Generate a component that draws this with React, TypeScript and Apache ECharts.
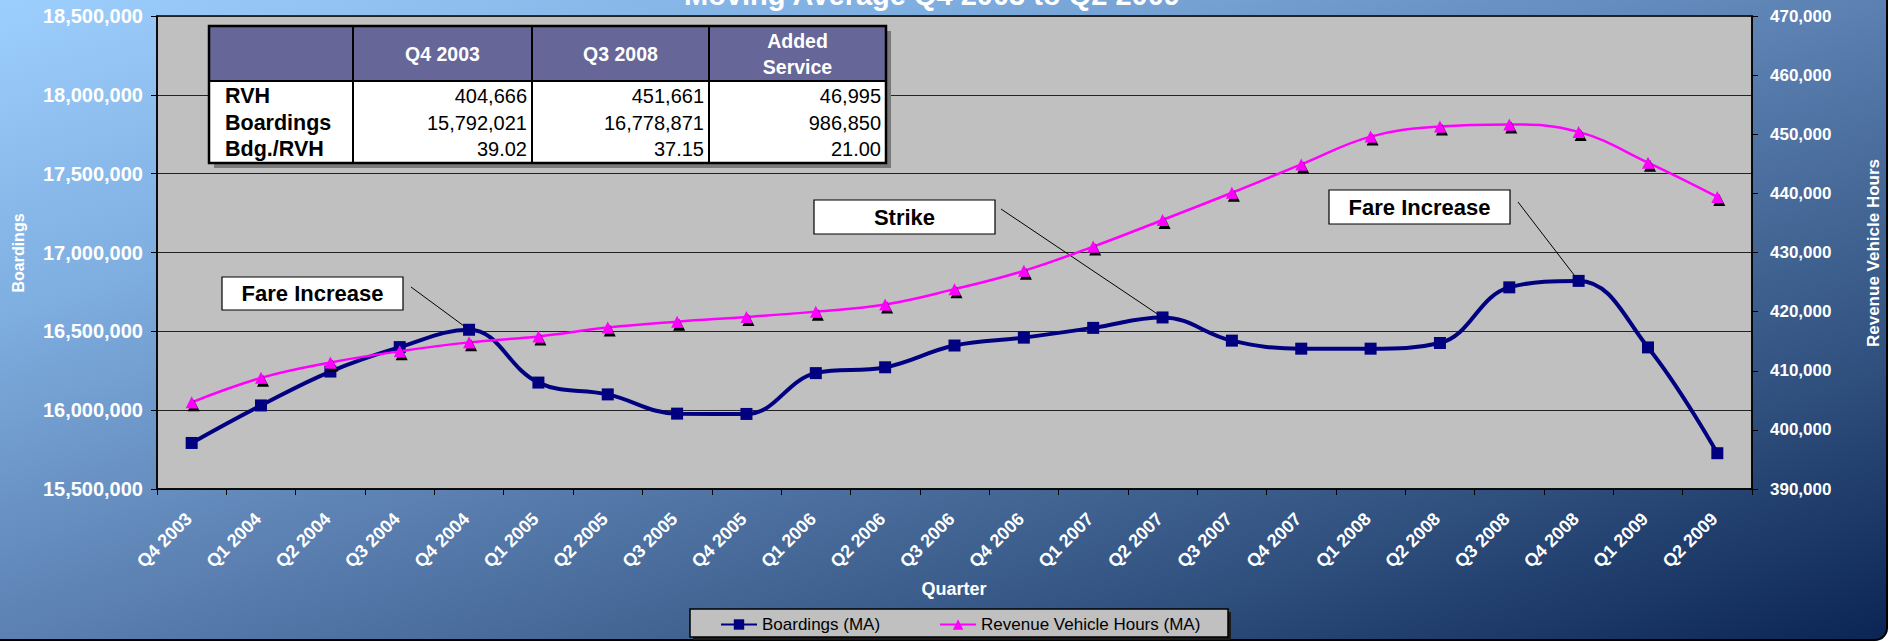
import React, { useEffect, useRef } from 'react';
import * as echarts from 'echarts';

// ---------------- data ----------------
const categories = [
  'Q4 2003', 'Q1 2004', 'Q2 2004', 'Q3 2004', 'Q4 2004', 'Q1 2005', 'Q2 2005', 'Q3 2005',
  'Q4 2005', 'Q1 2006', 'Q2 2006', 'Q3 2006', 'Q4 2006', 'Q1 2007', 'Q2 2007', 'Q3 2007',
  'Q4 2007', 'Q1 2008', 'Q2 2008', 'Q3 2008', 'Q4 2008', 'Q1 2009', 'Q2 2009',
];

const boardings = [
  15792021, 16030000, 16245000, 16400000, 16510000, 16175000, 16100000, 15978000,
  15976000, 16235000, 16272000, 16410000, 16460000, 16522000, 16588000, 16441000,
  16390000, 16390000, 16426000, 16778871, 16820000, 16398000, 15727000,
];

const revenueVehicleHours = [
  404666, 408800, 411400, 413300, 414800, 415800, 417300, 418300,
  419100, 420000, 421200, 423800, 426900, 431000, 435500, 440100,
  444900, 449600, 451300, 451661, 450400, 445200, 439400,
];

const seriesNames = ['Boardings (MA)', 'Revenue Vehicle Hours (MA)'];
const leftAxisRange = [15500000, 18500000, 500000];
const rightAxisRange = [390000, 470000, 10000];

const titleText = 'Moving Average Q4 2003 to Q2 2009';
const xAxisName = 'Quarter';
const leftAxisName = 'Boardings';
const rightAxisName = 'Revenue Vehicle Hours';

const tableHeaders = ['', 'Q4 2003', 'Q3 2008', 'Added\nService'];
const tableRowLabels = ['RVH', 'Boardings', 'Bdg./RVH'];
const tableQ42003 = ['404,666', '15,792,021', '39.02'];
const tableQ32008 = ['451,661', '16,778,871', '37.15'];
const tableAdded = ['46,995', '986,850', '21.00'];

const annotationTexts = ['Fare Increase', 'Strike', 'Fare Increase'];
const annotationIndex = [4, 14, 20];

// ---------------- layout ----------------
const W = 1891;
const H = 642;
const FONT = '"Liberation Sans", Arial, Helvetica, sans-serif';
const annotationBoxes = [
  { x: 222, y: 277, w: 181, h: 33, lx: 411, ly: 287 },
  { x: 814, y: 200, w: 181, h: 34, lx: 1001, ly: 209 },
  { x: 1329, y: 190, w: 181, h: 34, lx: 1518, ly: 202 },
];
const tableCols = [209, 353, 532, 709, 886];
const tableTop = 26;
const tableHeadBottom = 81;
const tableBottom = 163;
const tableRowY = [96, 122.5, 149];

const fmt = (v: number) => v.toLocaleString('en-US');

export default function App() {
  const ref = useRef<HTMLDivElement>(null);

  useEffect(() => {
    if (!ref.current) return;
    const chart = echarts.init(ref.current, undefined, { renderer: 'svg' });

    const option: any = {
      animation: false,
      backgroundColor: 'transparent',
      textStyle: { fontFamily: FONT },
      grid: {
        left: 157, right: W - 1752, top: 16, bottom: H - 489,
        show: true, backgroundColor: '#c0c0c0', borderColor: '#000', borderWidth: 1.5,
        containLabel: false,
      },
      legend: {
        left: 720, top: 616, itemWidth: 36, itemHeight: 13, itemGap: 59, padding: 0,
        textStyle: { color: '#000', fontSize: 17, fontFamily: FONT },
        data: seriesNames,
      },
      xAxis: {
        type: 'category', data: categories, boundaryGap: true,
        axisLine: { lineStyle: { color: '#000', width: 1.5 } },
        axisTick: { show: true, length: 6, lineStyle: { color: '#000' } },
        axisLabel: {
          color: '#fff', fontWeight: 'bold', fontSize: 18, rotate: 45, margin: 24,
          padding: [0, 4, 0, 0], interval: 0, fontFamily: FONT,
        },
        splitLine: { show: false },
      },
      yAxis: [
        {
          type: 'value', position: 'left',
          min: leftAxisRange[0], max: leftAxisRange[1], interval: leftAxisRange[2],
          axisLine: { show: true, lineStyle: { color: '#000', width: 1.5 } },
          axisTick: { show: true, length: 6, lineStyle: { color: '#000' } },
          axisLabel: { color: '#fff', fontWeight: 'bold', fontSize: 20, margin: 14, formatter: fmt, fontFamily: FONT },
          splitLine: { show: true, lineStyle: { color: '#222', width: 1 } },
        },
        {
          type: 'value', position: 'right',
          min: rightAxisRange[0], max: rightAxisRange[1], interval: rightAxisRange[2],
          axisLine: { show: true, lineStyle: { color: '#000', width: 1.5 } },
          axisTick: { show: true, length: 6, lineStyle: { color: '#000' } },
          axisLabel: { color: '#fff', fontWeight: 'bold', fontSize: 17, margin: 18, formatter: fmt, fontFamily: FONT },
          splitLine: { show: false },
        },
      ],
      series: [
        {
          name: seriesNames[0], type: 'line', yAxisIndex: 0, data: boardings,
          smooth: 0.4, symbol: 'rect', symbolSize: 12, z: 3,
          lineStyle: { color: '#000080', width: 4 },
          itemStyle: { color: '#000080' },
        },
        {
          name: seriesNames[1], type: 'line', yAxisIndex: 1, data: revenueVehicleHours,
          smooth: 0.4, symbol: 'triangle', symbolSize: 12, z: 4,
          lineStyle: { color: '#ff00ff', width: 2.5 },
          itemStyle: {
            color: '#ff00ff', shadowColor: '#000', shadowBlur: 0,
            shadowOffsetX: 2, shadowOffsetY: 3,
          },
        },
      ],
    };
    chart.setOption(option);

    // ---- graphics (background, title, names, table, annotations, legend box) ----
    const g: any[] = [];
    const a = (2 * W * H * H) / (W * W + H * H);
    const b = (2 * W * W * H) / (W * W + H * H);
    g.push({
      type: 'rect', z: -10, silent: true,
      shape: { x: -12, y: -30, width: 1899, height: 670, r: 12 },
      style: {
        fill: new echarts.graphic.LinearGradient(0, 0, a, b, [
          { offset: 0, color: '#9dcffe' },
          { offset: 0.25, color: '#7eaddf' },
          { offset: 0.5, color: '#5b80b1' },
          { offset: 0.75, color: '#355684' },
          { offset: 1, color: '#0a2453' },
        ], true),
        stroke: '#000', lineWidth: 2,
      },
    });
    g.push({
      type: 'text', z: 5, x: 932, y: -5,
      style: { text: titleText, fill: '#fff', font: `bold 29px ${FONT}`, align: 'center', verticalAlign: 'middle' },
    });
    g.push({
      type: 'text', z: 5, x: 954, y: 589,
      style: { text: xAxisName, fill: '#fff', font: `bold 18px ${FONT}`, align: 'center', verticalAlign: 'middle' },
    });
    g.push({
      type: 'text', z: 5, x: 18, y: 253, rotation: Math.PI / 2,
      style: { text: leftAxisName, fill: '#fff', font: `bold 16px ${FONT}`, align: 'center', verticalAlign: 'middle' },
    });
    g.push({
      type: 'text', z: 5, x: 1873, y: 253, rotation: Math.PI / 2,
      style: { text: rightAxisName, fill: '#fff', font: `bold 17px ${FONT}`, align: 'center', verticalAlign: 'middle' },
    });

    // legend box
    g.push({
      type: 'rect', z: 0, silent: true,
      shape: { x: 693, y: 612, width: 538, height: 28 },
      style: { fill: '#1a1a1a' },
    });
    g.push({
      type: 'rect', z: 0, silent: true,
      shape: { x: 690, y: 609, width: 538, height: 28 },
      style: { fill: '#c0c0c0', stroke: '#000', lineWidth: 1.5 },
    });

    // table
    const tx = tableCols[0];
    const tw = tableCols[4] - tableCols[0];
    g.push({ type: 'rect', z: 20, shape: { x: tx + 5, y: tableTop + 5, width: tw, height: tableBottom - tableTop }, style: { fill: '#7a7a7a' } });
    g.push({ type: 'rect', z: 20, shape: { x: tx, y: tableTop, width: tw, height: tableHeadBottom - tableTop }, style: { fill: '#666699' } });
    g.push({ type: 'rect', z: 20, shape: { x: tx, y: tableHeadBottom, width: tw, height: tableBottom - tableHeadBottom }, style: { fill: '#ffffff' } });
    g.push({ type: 'rect', z: 21, shape: { x: tx, y: tableTop, width: tw, height: tableBottom - tableTop }, style: { fill: 'none', stroke: '#000', lineWidth: 2.5 } });
    g.push({ type: 'line', z: 21, shape: { x1: tx, y1: tableHeadBottom, x2: tableCols[4], y2: tableHeadBottom }, style: { stroke: '#000', lineWidth: 2 } });
    for (let i = 1; i < 4; i++) {
      g.push({ type: 'line', z: 21, shape: { x1: tableCols[i], y1: tableTop, x2: tableCols[i], y2: tableBottom }, style: { stroke: '#000', lineWidth: 2 } });
    }
    for (let i = 1; i < 4; i++) {
      g.push({
        type: 'text', z: 22, x: (tableCols[i] + tableCols[i + 1]) / 2, y: (tableTop + tableHeadBottom) / 2,
        style: { text: tableHeaders[i], fill: '#fff', font: `bold 19.5px ${FONT}`, align: 'center', verticalAlign: 'middle', lineHeight: 26 },
      });
    }
    const cols = [tableQ42003, tableQ32008, tableAdded];
    tableRowLabels.forEach((lab, r) => {
      g.push({
        type: 'text', z: 22, x: tx + 16, y: tableRowY[r],
        style: { text: lab, fill: '#000', font: `bold 21.5px ${FONT}`, align: 'left', verticalAlign: 'middle' },
      });
      cols.forEach((col, c) => {
        g.push({
          type: 'text', z: 22, x: tableCols[c + 2] - 5, y: tableRowY[r],
          style: { text: col[r], fill: '#000', font: `20px ${FONT}`, align: 'right', verticalAlign: 'middle' },
        });
      });
    });

    // annotations
    annotationTexts.forEach((t, i) => {
      const idx = annotationIndex[i];
      const p = chart.convertToPixel({ xAxisIndex: 0, yAxisIndex: 0 }, [idx, boardings[idx]]) as number[];
      const bx = annotationBoxes[i];
      g.push({ type: 'line', z: 1, shape: { x1: bx.lx, y1: bx.ly, x2: p[0], y2: p[1] }, style: { stroke: '#000', lineWidth: 1 } });
      g.push({ type: 'rect', z: 10, shape: { x: bx.x, y: bx.y, width: bx.w, height: bx.h }, style: { fill: '#fff', stroke: '#000', lineWidth: 1.2 } });
      g.push({
        type: 'text', z: 11, x: bx.x + bx.w / 2, y: bx.y + bx.h / 2,
        style: { text: t, fill: '#000', font: `bold 22px ${FONT}`, align: 'center', verticalAlign: 'middle' },
      });
    });

    chart.setOption({ graphic: { elements: g } });

    return () => chart.dispose();
  }, []);

  return (
    <div
      ref={ref}
      style={{ position: 'absolute', left: 0, top: 0, width: W, height: H, background: '#fff' }}
    />
  );
}
